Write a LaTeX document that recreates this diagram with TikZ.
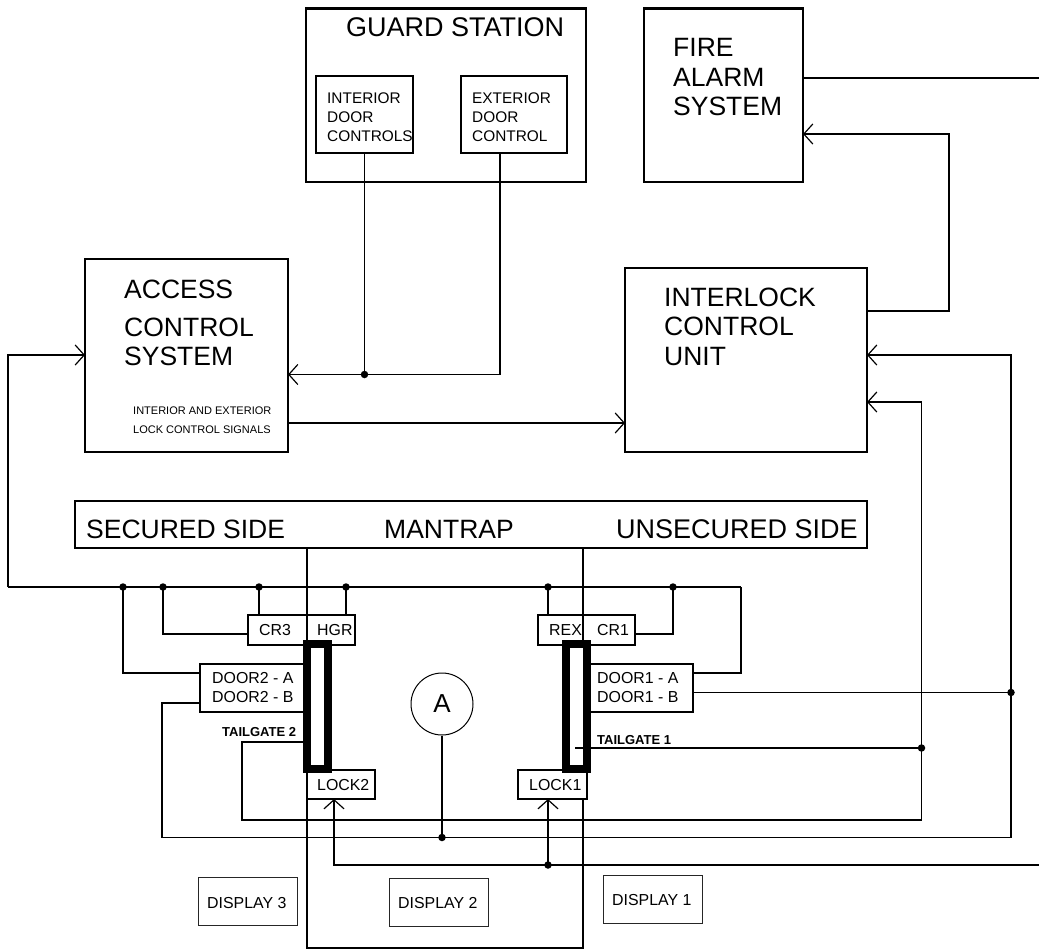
\documentclass[tikz,border=0pt]{standalone}
\usepackage{fontspec}
\setmainfont{Liberation Sans}
\usetikzlibrary{arrows.meta}
\tikzset{
  x=1pt,y=-1pt,
  bx/.style={draw=black,fill=white,inner sep=0pt,outer sep=0pt,line width=2.6pt},
  innerbx/.style={draw=black,fill=white,inner sep=0pt,outer sep=0pt,line width=1.3pt},
  thinbx/.style={draw=black!85,fill=white,inner sep=0pt,outer sep=0pt,line width=1pt},
  roomline/.style={draw=black,line width=1.4pt},
  wire/.style={draw=black,line width=1.3pt},
  arrow/.style={wire,-{Straight Barb[length=9pt,width=20pt,line width=1.2pt]}},
  dot/.style={circle,fill=black,inner sep=0pt,outer sep=0pt,minimum size=7.5pt},
  big/.style={anchor=base west,inner sep=0pt,font=\fontsize{26.5}{26.5}\selectfont,align=left},
  wide/.style={anchor=base west,inner sep=0pt,font=\fontsize{27}{27}\selectfont,align=left},
  mid/.style={anchor=base west,inner sep=0pt,font=\fontsize{15.4}{15.4}\selectfont},
  lbl/.style={anchor=base west,inner sep=0pt,font=\fontsize{15.9}{15.9}\selectfont},
  tiny/.style={anchor=base west,inner sep=0pt,font=\fontsize{11}{11}\selectfont},
  tail/.style={anchor=base west,inner sep=0pt,font=\fontsize{13}{13}\bfseries\selectfont},
}
\newcommand{\bxn}[6]{\node[#6,minimum width={(#4-#2)*1pt},minimum height={(#5-#3)*1pt}] (#1) at ({(#2+#4)/2},{(#3+#5)/2}) {};}
\begin{document}
\begin{tikzpicture}
\useasboundingbox (0,0) rectangle (1039,950);
% mantrap room (thin outline behind)
\coordinate (rTL) at (307,548);
\coordinate (rTR) at (583,548);
\coordinate (rBL) at (307,948);
\coordinate (rBR) at (583,948);
\draw[roomline] (rTL) -- (rBL) -- (rBR) -- (rTR);
% boxes
\bxn{guard}{306}{8.5}{586}{182}{bx}
\bxn{intctl}{316}{76}{413}{153}{innerbx}
\bxn{extctl}{461}{76}{567}{153}{innerbx}
\bxn{fire}{644}{8.5}{803}{182}{bx}
\bxn{access}{85}{259}{288}{452}{bx}
\bxn{icu}{625}{268}{867}{452}{bx}
\bxn{banner}{75}{501}{867}{548}{bx}
% wire coordinates
\coordinate (busL) at (8,587);
\coordinate (j1) at (123,587);
\coordinate (j2) at (163,587);
\coordinate (j3) at (259,587);
\coordinate (j4) at (346,587);
\coordinate (j5) at (548,587);
\coordinate (j6) at (673,587);
\coordinate (busR) at (741,587);
\coordinate (jg) at (364.5,374.5);
\coordinate (jb) at (1011,692.5);
\coordinate (jt) at (921.5,748);
\coordinate (ja) at (442,837.5);
\coordinate (jl) at (548,865);
\coordinate (lockend) at (1039,865);
\coordinate (fireend) at (1039,78);
% wires
\draw[arrow] (busL) |- (access.west |- 0,355);
\draw[wire] (busL) -- (busR);
\draw[wire] (intctl.south -| jg) -- (jg);
\draw[arrow] (extctl.south -| 500,0) -- (500,374.5) -- (access.east |- 0,374.5);
\draw[arrow] (access.east |- 0,423) -- (icu.west |- 0,423);
\draw[wire] (fire.east |- fireend) -- (fireend);
\draw[arrow] (icu.east |- 0,311) -- (949,311) -- (949,134) -- (fire.east |- 0,134);
\draw[wire] (j1) |- (200,673);
\draw[wire] (j2) |- (248,634);
\draw[wire] (j3) -- (259,615);
\draw[wire] (j4) -- (346,615);
\draw[wire] (j5) -- (548,615);
\draw[wire] (j6) |- (635,634);
\draw[wire] (busR) |- (693,673);
\draw[arrow] (200,703) -- (162,703) -- (162,837.5) -- (1011,837.5) -- (1011,355) -- (icu.east |- 0,355);
\draw[wire] (693,692.5) -- (jb);
\draw[arrow] (303,742) -- (242,742) -- (242,820) -- (921.5,820) -- (921.5,402) -- (icu.east |- 0,402);
\draw[arrow] (lockend) -- (334,865) -- (334,799);
\draw[arrow] (jl) -- (548,799);
% mantrap side devices
\bxn{crhgr}{248}{615}{355}{645}{bx}
\bxn{rexcr}{538}{615}{635}{645}{bx}
\draw[roomline] (crhgr.north -| rTL) -- (crhgr.south -| rTL);
\draw[roomline] (rexcr.north -| rTR) -- (rexcr.south -| rTR);
\bxn{door2}{200}{664}{310}{712}{bx}
\bxn{door1}{585}{664}{693}{712}{bx}
\bxn{lock2}{307}{770}{375}{799}{bx}
\bxn{lock1}{518}{770}{587}{799}{bx}
\node[draw=black,line width=8pt,fill=white,inner sep=0pt,minimum width=21pt,minimum height=125pt] (bar2) at (317.5,706.5) {};
\node[draw=black,line width=8pt,fill=white,inner sep=0pt,minimum width=21pt,minimum height=125pt] (bar1) at (576.5,706.5) {};
\draw[wire] (575,748) -- (jt);
\node[draw=black,fill=white,line width=1pt,circle,inner sep=0pt,minimum size=62pt] (circA) at (442,704) {};
\draw[wire] (circA.south) -- (ja);
\foreach \p in {j1,j2,j3,j4,j5,j6,jg,jb,jt,ja,jl} \node[dot] (d\p) at (\p) {};
% displays
\bxn{disp3}{198}{877}{297}{925}{thinbx}
\bxn{disp2}{389}{878}{488}{926}{thinbx}
\bxn{disp1}{603}{875}{702}{923}{thinbx}
% text
\node[wide] (t1) at (346,37) {GUARD STATION};
\node[mid] (t2) at (327,103) {INTERIOR};
\node[mid] (t3) at (327,122) {DOOR};
\node[mid] (t4) at (327,141) {CONTROLS};
\node[mid] (t5) at (472,103) {EXTERIOR};
\node[mid] (t6) at (472,122) {DOOR};
\node[mid] (t7) at (472,141) {CONTROL};
\node[big] (t8) at (673,57) {FIRE};
\node[big] (t9) at (673,86) {ALARM};
\node[big] (t10) at (673,115) {SYSTEM};
\node[big] (t11) at (124,298) {ACCESS};
\node[big] (t12) at (124,336) {CONTROL};
\node[big] (t13) at (124,365) {SYSTEM};
\node[tiny] (t14) at (133,414) {INTERIOR AND EXTERIOR};
\node[tiny] (t15) at (133,433) {LOCK CONTROL SIGNALS};
\node[big] (t16) at (664,306) {INTERLOCK};
\node[big] (t17) at (664,335) {CONTROL};
\node[big] (t18) at (664,365) {UNIT};
\node[big] (t19) at (86,538) {SECURED SIDE};
\node[big] (t20) at (384,538) {MANTRAP};
\node[wide] (t21) at (616,538) {UNSECURED SIDE};
\node[lbl] (t22) at (259,635) {CR3};
\node[lbl] (t23) at (317,635) {HGR};
\node[lbl] (t24) at (549,635) {REX};
\node[lbl] (t25) at (597,635) {CR1};
\node[lbl] (t26) at (212,683) {DOOR2 - A};
\node[lbl] (t27) at (212,702) {DOOR2 - B};
\node[lbl] (t28) at (597,683) {DOOR1 - A};
\node[lbl] (t29) at (597,702) {DOOR1 - B};
\node[tail] (t30) at (222,736) {TAILGATE 2};
\node[tail] (t31) at (597,744) {TAILGATE 1};
\node[lbl] (t32) at (317,790) {LOCK2};
\node[lbl] (t33) at (529,790) {LOCK1};
\node[anchor=center,inner sep=0pt,font=\fontsize{26}{26}\selectfont] (t34) at (circA.center) {A};
\node[lbl] (t35) at (207,908) {DISPLAY 3};
\node[lbl] (t36) at (398,908) {DISPLAY 2};
\node[lbl] (t37) at (612,905) {DISPLAY 1};
\end{tikzpicture}
\end{document}
